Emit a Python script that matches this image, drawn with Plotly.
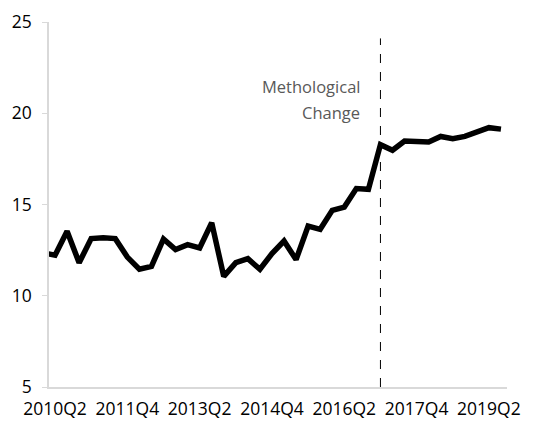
import plotly.graph_objects as go

# quarterly series, 2010Q1 is partly clipped on the left edge
quarters = [
    "2010Q1", "2010Q2", "2010Q3", "2010Q4",
    "2011Q1", "2011Q2", "2011Q3", "2011Q4",
    "2012Q1", "2012Q2", "2012Q3", "2012Q4",
    "2013Q1", "2013Q2", "2013Q3", "2013Q4",
    "2014Q1", "2014Q2", "2014Q3", "2014Q4",
    "2015Q1", "2015Q2", "2015Q3", "2015Q4",
    "2016Q1", "2016Q2", "2016Q3", "2016Q4",
    "2017Q1", "2017Q2", "2017Q3", "2017Q4",
    "2018Q1", "2018Q2", "2018Q3", "2018Q4",
    "2019Q1", "2019Q2", "2019Q3",
]
values = [
    12.35, 12.22, 13.53, 11.81,
    13.13, 13.18, 13.13, 12.12,
    11.45, 11.61, 13.11, 12.53,
    12.80, 12.62, 14.00, 11.06,
    11.81, 12.03, 11.45, 12.31,
    13.00, 11.98, 13.82, 13.64,
    14.68, 14.86, 15.87, 15.83,
    18.28, 17.97, 18.48, 18.48,
    18.42, 18.73, 18.61, 18.73,
    19.00, 19.21, 19.13,
]
tick_labels = ["2010Q2", "2011Q4", "2013Q2", "2014Q4", "2016Q2", "2017Q4", "2019Q2"]
y_ticks = [5, 10, 15, 20, 25]
break_quarter = "2017Q1"
break_lines = ["Methological", "Change"]
break_line_y = [21.45, 20.02]

font = "Open Sans, Noto Sans, sans-serif"

fig = go.Figure()
fig.add_trace(go.Scatter(
    x=quarters, y=values, mode="lines",
    line=dict(color="black", width=5.5),
    hoverinfo="skip", showlegend=False,
))

fig.add_shape(
    type="line", xref="x", yref="y",
    x0=break_quarter, x1=break_quarter, y0=5, y1=24.1,
    line=dict(color="black", width=1, dash="dash"),
)
for txt, yy in zip(break_lines, break_line_y):
    fig.add_annotation(
        x=break_quarter, y=yy, xref="x", yref="y",
        text=txt, showarrow=False,
        xanchor="right", yanchor="middle", xshift=-18, align="right",
        font=dict(family=font, size=16.5, color="#595959"),
    )

# the page body has an 8px margin, so the figure is shrunk and the margins shifted
fig.update_layout(
    width=528, height=415,
    margin=dict(l=41, r=29, t=14, b=36),
    plot_bgcolor="white", paper_bgcolor="white",
    font=dict(family=font, size=17, color="black"),
    xaxis=dict(
        type="category", categoryorder="array", categoryarray=quarters,
        range=[0.5, len(quarters) - 0.5], automargin=False,
        tickmode="array", tickvals=tick_labels, ticktext=tick_labels,
        showgrid=False, zeroline=False,
        showline=True, linecolor="#d9d9d9", linewidth=1.5,
        ticks="", tickangle=0, ticklabelstandoff=5,
        tickfont=dict(family=font, size=17.5, color="black"),
    ),
    yaxis=dict(
        range=[5, 25], tickvals=y_ticks, automargin=False,
        showgrid=False, zeroline=False,
        showline=True, linecolor="#d9d9d9", linewidth=1.5,
        ticks="outside", ticklen=5, tickcolor="#d9d9d9",
        ticklabelstandoff=7,
        tickfont=dict(family=font, size=17.5, color="black"),
    ),
)

fig.write_html("out.html")
